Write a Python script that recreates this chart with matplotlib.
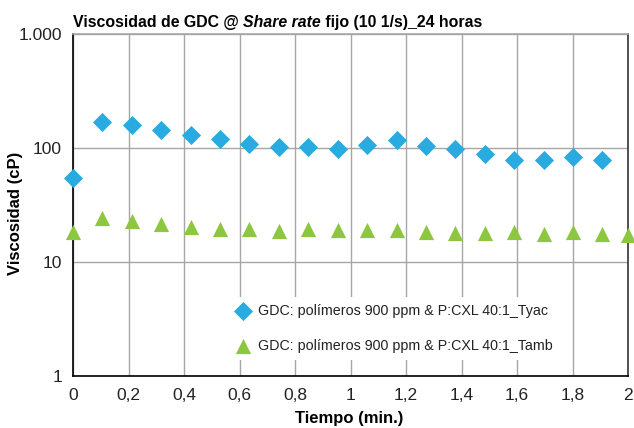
import matplotlib
matplotlib.use("Agg")
import matplotlib.pyplot as plt
from matplotlib.ticker import FixedLocator, FixedFormatter

tiempo_tyac = [0.0, 0.106, 0.212, 0.318, 0.424, 0.53, 0.636, 0.742, 0.848, 0.954,
               1.06, 1.166, 1.272, 1.378, 1.484, 1.59, 1.696, 1.802, 1.908]
visc_tyac = [54.6, 168, 159, 142, 129, 120, 108, 102.6, 102.6, 98,
             106, 116, 103, 98, 87.4, 78.5, 78.5, 82.7, 77.4]

tiempo_tamb = [0.0, 0.106, 0.212, 0.318, 0.424, 0.53, 0.636, 0.742, 0.848, 0.954,
               1.06, 1.166, 1.272, 1.378, 1.484, 1.59, 1.696, 1.802, 1.908, 2.0]
visc_tamb = [18.3, 24.0, 22.8, 21.3, 20.3, 19.5, 19.5, 18.6, 19.4, 18.8,
             18.8, 18.8, 18.2, 17.7, 17.7, 18.2, 17.6, 18.2, 17.6, 17.1]

label_tyac = "GDC: polímeros 900 ppm & P:CXL 40:1_Tyac"
label_tamb = "GDC: polímeros 900 ppm & P:CXL 40:1_Tamb"

x_ticks = [0, 0.2, 0.4, 0.6, 0.8, 1.0, 1.2, 1.4, 1.6, 1.8, 2.0]
x_labels = ["0", "0,2", "0,4", "0,6", "0,8", "1", "1,2", "1,4", "1,6", "1,8", "2"]
y_ticks = [1, 10, 100, 1000]
y_labels = ["1", "10", "100", "1.000"]

AZUL = "#29abe2"
VERDE = "#8dc63f"
GRIS = "#a6a6a6"

plt.rcParams["font.family"] = ["Liberation Sans", "DejaVu Sans"]

fig = plt.figure(figsize=(6.34, 4.28), dpi=100)
ax = fig.add_axes([73 / 634, 1 - 375.5 / 428, 555 / 634, 341.5 / 428])

ax.scatter(tiempo_tyac, visc_tyac, marker="D", s=95, color=AZUL, linewidths=0,
           label=label_tyac, zorder=3, clip_on=False)
ax.scatter(tiempo_tamb, visc_tamb, marker="^", s=120, color=VERDE, linewidths=0,
           label=label_tamb, zorder=3, clip_on=False)

ax.set_yscale("log")
ax.set_xlim(0, 2)
ax.set_ylim(1, 1000)
ax.xaxis.set_major_locator(FixedLocator(x_ticks))
ax.xaxis.set_major_formatter(FixedFormatter(x_labels))
ax.yaxis.set_major_locator(FixedLocator(y_ticks))
ax.yaxis.set_major_formatter(FixedFormatter(y_labels))
ax.yaxis.set_minor_locator(FixedLocator([]))
ax.tick_params(length=0, labelsize=12.5, colors="#222222")
ax.tick_params(axis="x", pad=9)
ax.tick_params(axis="y", pad=8)

ax.grid(True, color=GRIS, linewidth=1.0)
ax.set_axisbelow(True)
ax.spines["left"].set_color("black")
ax.spines["bottom"].set_color("black")
ax.spines["top"].set_color(GRIS)
ax.spines["right"].set_color("#333333")
for s in ax.spines.values():
    s.set_linewidth(1.2)

leg = ax.legend(loc="center", bbox_to_anchor=(0.578, 0.1376), frameon=True,
                facecolor="white", edgecolor="none", framealpha=1, fancybox=False,
                fontsize=10.3, labelspacing=1.5, handletextpad=0.45,
                borderpad=0.5, scatterpoints=1, handlelength=1.2)
for t in leg.get_texts():
    t.set_color("#222222")

# titulo con "Share rate" en cursiva
fam_titulo = ["Liberation Sans Narrow", "Liberation Sans"]
t1 = fig.text(73 / 634, 1 - 27 / 428, "Viscosidad de GDC @ ", fontsize=11.4,
              fontweight="bold", ha="left", va="baseline", family=fam_titulo)
t2 = fig.text(0, 0, "Share rate", fontsize=11.4, fontweight="bold", style="italic",
              va="baseline", family=fam_titulo)
t3 = fig.text(0, 0, " fijo (10 1/s)_24 horas", fontsize=11.4, fontweight="bold",
              va="baseline", family=fam_titulo)
fig.canvas.draw()
r = fig.canvas.get_renderer()
y = t1.get_position()[1]
t2.set_position((t1.get_window_extent(r).x1 / fig.bbox.width, y))
fig.canvas.draw()
t3.set_position((t2.get_window_extent(r).x1 / fig.bbox.width, y))

fig.text(16 / 634, 1 - 213 / 428, "Viscosidad (cP)", rotation=90, fontsize=12,
         fontweight="bold", ha="center", va="center")
fig.text(349 / 634, 1 - 423.5 / 428, "Tiempo (min.)", fontsize=12,
         fontweight="bold", ha="center", va="baseline")

fig.savefig("out.png", dpi=100)
